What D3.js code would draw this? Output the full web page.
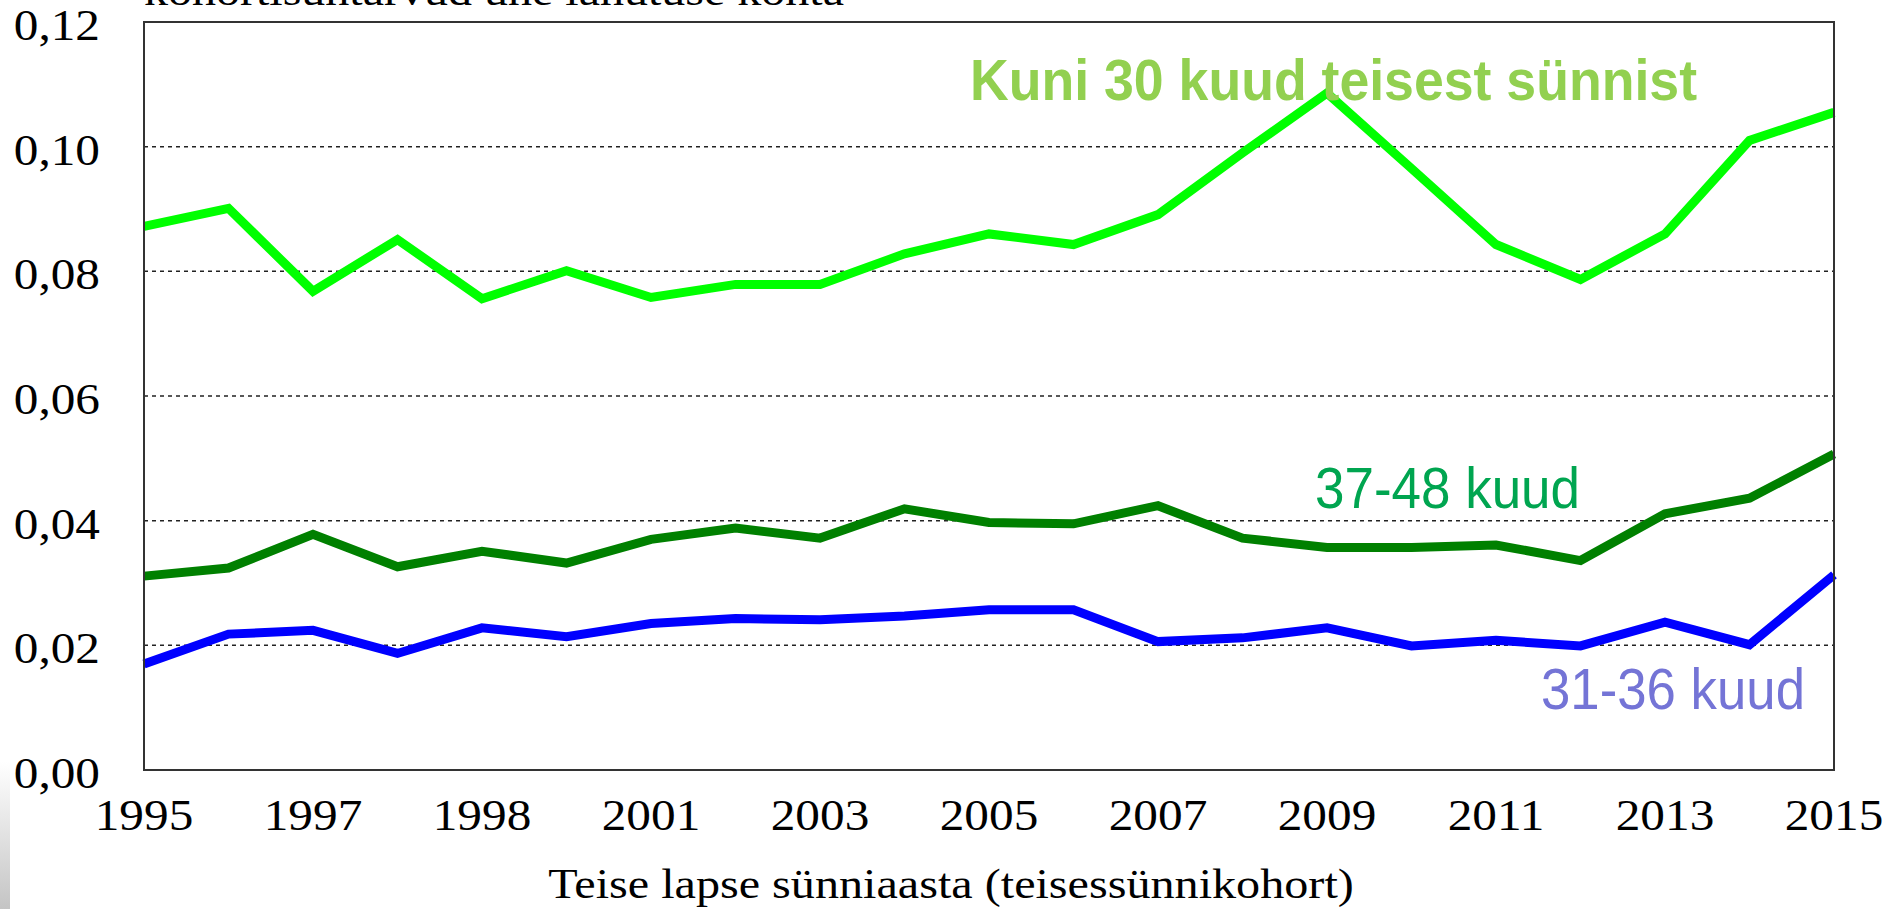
<!DOCTYPE html>
<html>
<head>
<meta charset="utf-8">
<script src="https://cdn.jsdelivr.net/npm/d3@7"></script>
<style>
  body { margin: 0; background: #fff; overflow: hidden; }
  svg { display: block; }
</style>
</head>
<body>
<div id="chart"></div>
<script>
// data
var years = d3.range(1995, 2016);
var kuni30 = [0.0872, 0.0901, 0.0768, 0.0851, 0.0756, 0.0801, 0.0758, 0.0779, 0.0779, 0.0828,
  0.0860, 0.0843, 0.0891, 0.0990, 0.1086, 0.0965, 0.0843, 0.0787, 0.0860, 0.1010, 0.1055];
var kuud37_48 = [0.0311, 0.0324, 0.0378, 0.0326, 0.0351, 0.0332, 0.0370, 0.0388, 0.0372, 0.0419,
  0.0397, 0.0395, 0.0424, 0.0372, 0.0357, 0.0357, 0.0361, 0.0336, 0.0411, 0.0436, 0.0507];
var kuud31_36 = [0.0170, 0.0218, 0.0224, 0.0187, 0.0228, 0.0214, 0.0235, 0.0243, 0.0241, 0.0247,
  0.0257, 0.0257, 0.0206, 0.0212, 0.0228, 0.0199, 0.0208, 0.0199, 0.0237, 0.0201, 0.0313];
var yTicks = [0, 0.02, 0.04, 0.06, 0.08, 0.10, 0.12];
var xTickLabels = ["1995", "1997", "1998", "2001", "2003", "2005", "2007", "2009", "2011", "2013", "2015"];
var xTickYears = [1995, 1997, 1999, 2001, 2003, 2005, 2007, 2009, 2011, 2013, 2015];

var width = 1887, height = 909;
var margin = {top: 22, right: 53, bottom: 139, left: 144};

var svg = d3.select('#chart').append('svg')
  .attr('width', width)
  .attr('height', height);

// grey slide strip at the lower left
var grad = svg.append('defs').append('linearGradient')
  .attr('id', 'edge').attr('x1', 0).attr('y1', 0).attr('x2', 0).attr('y2', 1);
grad.append('stop').attr('offset', '0%').attr('stop-color', '#ffffff');
grad.append('stop').attr('offset', '100%').attr('stop-color', '#c4c4c4');
svg.append('rect')
  .attr('x', 0).attr('y', 762).attr('width', 10).attr('height', height - 762)
  .attr('fill', 'url(#edge)');

var x = d3.scaleLinear()
  .domain([1995, 2015])
  .range([margin.left, width - margin.right]);

var y = d3.scaleLinear()
  .domain([0, 0.12])
  .range([height - margin.bottom, margin.top]);

// dotted grid lines
svg.append('g')
  .selectAll('line')
  .data(yTicks.filter(function(d) { return d > 0 && d < 0.12; }))
  .enter().append('line')
  .attr('x1', x(1995)).attr('x2', x(2015))
  .attr('y1', function(d) { return y(d); })
  .attr('y2', function(d) { return y(d); })
  .attr('stroke', '#222')
  .attr('stroke-width', 1.5)
  .attr('stroke-dasharray', '4,4');

// y labels
svg.append('g')
  .selectAll('text')
  .data(yTicks)
  .enter().append('text')
  .attr('transform', function(d) { return 'translate(100,' + (y(d) + 18) + ') scale(1.12,1)'; })
  .attr('text-anchor', 'end')
  .attr('font-family', 'Liberation Serif, Times New Roman, serif')
  .attr('font-size', 44)
  .attr('fill', '#000')
  .text(function(d) { return d3.format('.2f')(d).replace('.', ','); });

// x labels
svg.append('g')
  .selectAll('text')
  .data(xTickYears)
  .enter().append('text')
  .attr('transform', function(d) { return 'translate(' + x(d) + ',830) scale(1.12,1)'; })
  .attr('text-anchor', 'middle')
  .attr('font-family', 'Liberation Serif, Times New Roman, serif')
  .attr('font-size', 44)
  .attr('fill', '#000')
  .text(function(d, i) { return xTickLabels[i]; });

// axis title
svg.append('text')
  .attr('transform', 'translate(951,898) scale(1.12,1)')
  .attr('text-anchor', 'middle')
  .attr('font-family', 'Liberation Serif, Times New Roman, serif')
  .attr('font-size', 43)
  .attr('fill', '#000')
  .text('Teise lapse sünniaasta (teisessünnikohort)');

// y title, cut off at the top edge as in the source slide
svg.append('text')
  .attr('x', 144).attr('y', 5)
  .attr('font-family', 'Liberation Serif, Times New Roman, serif')
  .attr('font-size', 40)
  .attr('textLength', 700)
  .attr('lengthAdjust', 'spacingAndGlyphs')
  .attr('fill', '#000')
  .text('kohortisuhtarvud ühe lahutuse kohta');

// lines
var line = d3.line()
  .x(function(d, i) { return x(years[i]); })
  .y(function(d) { return y(d); });

var series = [
  {values: kuud31_36, color: '#0000ff'},
  {values: kuud37_48, color: '#008000'},
  {values: kuni30, color: '#00ff00'}
];

svg.append('g')
  .selectAll('path')
  .data(series)
  .enter().append('path')
  .attr('d', function(d) { return line(d.values); })
  .attr('fill', 'none')
  .attr('stroke', function(d) { return d.color; })
  .attr('stroke-width', 9)
  .attr('stroke-linejoin', 'miter');

// plot frame
svg.append('rect')
  .attr('x', x(1995)).attr('y', y(0.12))
  .attr('width', x(2015) - x(1995))
  .attr('height', y(0) - y(0.12))
  .attr('fill', 'none')
  .attr('stroke', '#333')
  .attr('stroke-width', 2);

// series labels
svg.append('text')
  .attr('x', 970).attr('y', 100)
  .attr('font-family', 'Liberation Sans, Arial, sans-serif')
  .attr('font-weight', 'bold')
  .attr('font-size', 58)
  .attr('textLength', 727)
  .attr('lengthAdjust', 'spacingAndGlyphs')
  .attr('fill', '#92d050')
  .text('Kuni 30 kuud teisest sünnist');

svg.append('text')
  .attr('x', 1315).attr('y', 508)
  .attr('font-family', 'Liberation Sans, Arial, sans-serif')
  .attr('font-size', 58)
  .attr('textLength', 265)
  .attr('lengthAdjust', 'spacingAndGlyphs')
  .attr('fill', '#00a550')
  .text('37-48 kuud');

svg.append('text')
  .attr('x', 1541).attr('y', 709)
  .attr('font-family', 'Liberation Sans, Arial, sans-serif')
  .attr('font-size', 58)
  .attr('textLength', 264)
  .attr('lengthAdjust', 'spacingAndGlyphs')
  .attr('fill', '#7474d6')
  .text('31-36 kuud');
</script>
</body>
</html>
